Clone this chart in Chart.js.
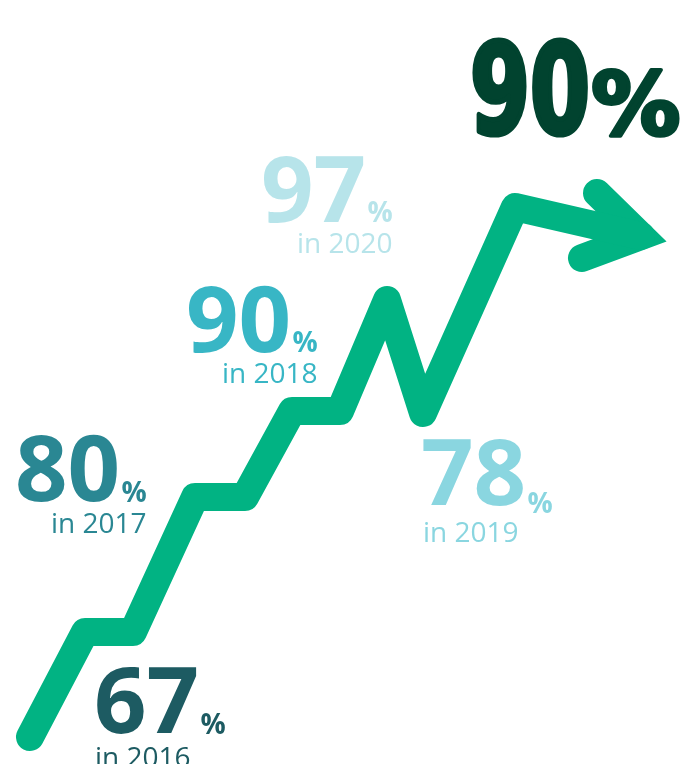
<!DOCTYPE html>
<html>
<head>
<meta charset="utf-8">
<script src="https://cdn.jsdelivr.net/npm/chart.js@4.4.1/dist/chart.umd.min.js"></script>
<style>
  html, body { margin: 0; padding: 0; background: #fff; }
  #wrap { width: 687px; height: 764px; }
</style>
</head>
<body>
<div id="wrap"><canvas id="growth" width="687" height="764"></canvas></div>
<script>
  // ===== data =====
  const years = [2016, 2017, 2018, 2019, 2020];
  const shares = [67, 80, 90, 78, 97];
  const headline = "90%";

  // zigzag of the green trend line (x to the right, y upwards)
  const pathX = [30, 85, 133, 195, 245, 292, 340, 387, 423, 515, 641];
  const pathY = [27, 132, 132, 267, 267, 353, 353, 464, 351, 557, 528];
  // arrow head: upper arm, tip, lower arm
  const arrowX = [597, 641, 582];
  const arrowY = [571, 528, 506];

  // ===== look =====
  const lineGreen = "#01b383";
  const labelColors = ["#1d5b62", "#2a8793", "#38b6c5", "#8ad6e0", "#b7e4ea"];
  // where each label sits (same units as the scales)
  const labelLayout = [
    { x: 97, base: 31, pctBase: 30, yearBase: -3, yearAlign: "left", yearX: 95 },
    { x: 18, base: 263, pctBase: 262, yearBase: 231, yearAlign: "right" },
    { x: 188, base: 412, pctBase: 412, yearBase: 381, yearAlign: "right" },
    { x: 423, base: 259, pctBase: 251, yearBase: 222, yearAlign: "left", yearX: 423 },
    { x: 263, base: 542, pctBase: 542, yearBase: 511, yearAlign: "right" },
  ];
  const headlineBox = {
    num: { left: 472, right: 588, top: 727, bottom: 627 },
    pct: { left: 592, right: 680, top: 697, bottom: 626 },
  };

  const toPoints = (xs, ys) => xs.map((x, i) => ({ x: x, y: ys[i] }));

  function fitText(ctx, text, font, l, t, r, b, color) {
    ctx.save();
    ctx.font = font;
    ctx.textAlign = "left";
    ctx.textBaseline = "alphabetic";
    const m = ctx.measureText(text);
    const w = m.actualBoundingBoxLeft + m.actualBoundingBoxRight;
    const h = m.actualBoundingBoxAscent + m.actualBoundingBoxDescent;
    const kx = (r - l - 4) / w, ky = (b - t - 4) / h;
    ctx.translate(l + 2, t + 2);
    ctx.scale(kx, ky);
    ctx.fillStyle = color;
    ctx.strokeStyle = color;
    ctx.lineJoin = "round";
    ctx.lineWidth = 4 / kx;
    ctx.fillText(text, m.actualBoundingBoxLeft, m.actualBoundingBoxAscent);
    ctx.strokeText(text, m.actualBoundingBoxLeft, m.actualBoundingBoxAscent);
    ctx.restore();
  }

  const labelsPlugin = {
    id: "shareLabels",
    afterDatasetsDraw(chart) {
      const ctx = chart.ctx;
      const sx = chart.scales.x, sy = chart.scales.y;
      ctx.save();
      ctx.textBaseline = "alphabetic";
      shares.forEach((v, i) => {
        const lay = labelLayout[i];
        const x = sx.getPixelForValue(lay.x);
        ctx.fillStyle = labelColors[i];
        ctx.textAlign = "left";

        ctx.font = "bold 92px 'Open Sans'";
        const num = String(v);
        const nm = ctx.measureText(num);
        const numX = x + nm.actualBoundingBoxLeft;
        ctx.fillText(num, numX, sy.getPixelForValue(lay.base));

        ctx.font = "bold 28px 'Open Sans'";
        const pm = ctx.measureText("%");
        const pctX = numX + nm.actualBoundingBoxRight + 4 + pm.actualBoundingBoxLeft;
        ctx.fillText("%", pctX, sy.getPixelForValue(lay.pctBase));
        const pctRight = pctX + pm.actualBoundingBoxRight;

        ctx.font = "28px 'Open Sans'";
        const yearText = "in " + years[i];
        if (lay.yearAlign === "right") {
          ctx.textAlign = "right";
          ctx.fillText(yearText, pctRight, sy.getPixelForValue(lay.yearBase));
        } else {
          ctx.fillText(yearText, sx.getPixelForValue(lay.yearX), sy.getPixelForValue(lay.yearBase));
        }
      });

      const nb = headlineBox.num, pb = headlineBox.pct;
      const font = "bold 140px 'Liberation Sans Narrow', 'DejaVu Sans Condensed', sans-serif";
      fitText(ctx, headline.replace("%", ""), font,
        sx.getPixelForValue(nb.left), sy.getPixelForValue(nb.top),
        sx.getPixelForValue(nb.right), sy.getPixelForValue(nb.bottom), "#01432f");
      fitText(ctx, "%", font,
        sx.getPixelForValue(pb.left), sy.getPixelForValue(pb.top),
        sx.getPixelForValue(pb.right), sy.getPixelForValue(pb.bottom), "#01432f");
      ctx.restore();
    },
  };

  const growth = document.getElementById("growth");
  new Chart(growth, {
    type: "line",
    plugins: [labelsPlugin],
    data: {
      datasets: [
        {
          label: "trend",
          data: toPoints(pathX, pathY),
          borderColor: lineGreen,
          borderWidth: 28,
          borderCapStyle: "round",
          borderJoinStyle: "round",
          pointRadius: 0,
          tension: 0,
          fill: false,
          clip: false,
        },
        {
          label: "arrow",
          data: toPoints(arrowX, arrowY),
          borderColor: lineGreen,
          borderWidth: 28,
          borderCapStyle: "round",
          borderJoinStyle: "miter",
          pointRadius: 0,
          tension: 0,
          fill: false,
          clip: false,
        },
      ],
    },
    options: {
      responsive: false,
      animation: false,
      layout: { padding: 0 },
      scales: {
        x: { type: "linear", min: 0, max: 687, display: false },
        y: { type: "linear", min: 0, max: 764, display: false },
      },
      plugins: {
        legend: { display: false },
        tooltip: { enabled: false },
      },
    },
  });
</script>
</body>
</html>
